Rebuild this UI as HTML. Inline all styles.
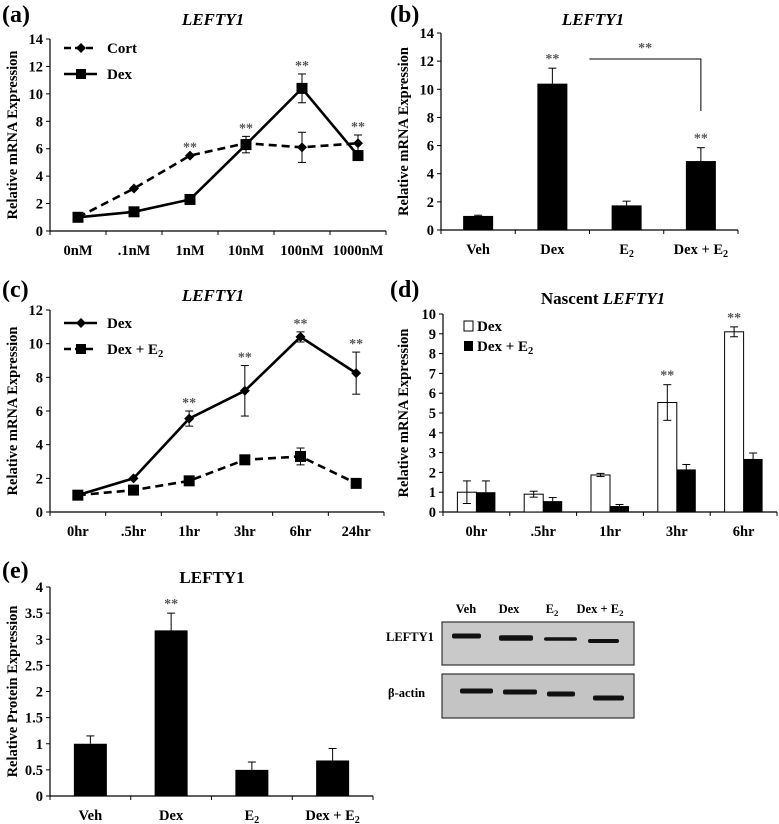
<!DOCTYPE html>
<html><head><meta charset="utf-8"><style>
body{margin:0;background:#fff}
svg{display:block}
svg text{font-family:"Liberation Serif","DejaVu Serif",serif;font-weight:bold}
</style></head><body>
<svg id="fig" width="779" height="824" viewBox="0 0 779 824" xmlns="http://www.w3.org/2000/svg" font-family="Liberation Serif, serif" font-weight="bold"></svg>
<script>
// Panel a
const aCats=["0nM",".1nM","1nM","10nM","100nM","1000nM"];
const aCort=[1,3.1,5.5,6.4,6.1,6.4];
const aCortErr=[0,0,0,0.1,1.1,0.6];
const aDex=[1,1.4,2.3,6.3,10.4,5.5];
const aDexErr=[0,0,0,0.6,1.05,0];
const aStars=[0,0,1,1,1,1];
const aTicks=[0,2,4,6,8,10,12,14];
// Panel b
const bCats=["Veh","Dex","E2","Dex + E2"];
const bVals=[1,10.4,1.75,4.9];
const bErr=[0.05,1.1,0.3,0.95];
const bStars=[0,1,0,1];
const bTicks=[0,2,4,6,8,10,12,14];
// Panel c
const cCats=["0hr",".5hr","1hr","3hr","6hr","24hr"];
const cDex=[1,2,5.55,7.2,10.4,8.25];
const cDexErr=[0.1,0.1,0.45,1.5,0.3,1.25];
const cDexE2=[1,1.3,1.85,3.1,3.3,1.7];
const cDexE2Err=[0.1,0.1,0.1,0.15,0.5,0.15];
const cStars=[0,0,1,1,1,1];
const cTicks=[0,2,4,6,8,10,12];
// Panel d
const dCats=["0hr",".5hr","1hr","3hr","6hr"];
const dDex=[1,0.9,1.87,5.53,9.1];
const dDexErr=[0.57,0.15,0.08,0.9,0.25];
const dDexE2=[1,0.55,0.3,2.15,2.68];
const dDexE2Err=[0.57,0.18,0.08,0.25,0.3];
const dStars=[0,0,0,1,1];
const dTicks=[0,1,2,3,4,5,6,7,8,9,10];
// Panel e
const eCats=["Veh","Dex","E2","Dex + E2"];
const eVals=[1,3.17,0.5,0.68];
const eErr=[0.15,0.33,0.15,0.23];
const eStars=[0,1,0,0];
const eTicks=[0,0.5,1,1.5,2,2.5,3,3.5,4];

const NS="http://www.w3.org/2000/svg";
const svg=document.getElementById('fig');
function el(tag,attrs,parent){const e=document.createElementNS(NS,tag);for(const k in attrs)e.setAttribute(k,attrs[k]);(parent||svg).appendChild(e);return e;}
function txt(x,y,s,size,anchor,parent,extra){const t=el('text',Object.assign({x:x,y:y,'font-size':size,'text-anchor':anchor||'middle','font-family':'Liberation Serif, DejaVu Serif, serif','font-weight':'bold'},extra||{}),parent);
  if(s.endsWith("E2")){t.textContent=s.slice(0,-1);const ts=el('tspan',{'font-size':size*0.7,dy:3},t);ts.textContent="2";}else t.textContent=s;return t;}

function axes(g,x0,x1,y0,ys,ticks,cats,title,ttlX,ttlY){
  el('line',{x1:x0,y1:ys(ticks[ticks.length-1]),x2:x0,y2:y0,stroke:'#000','stroke-width':1.2},g);
  el('line',{x1:x0,y1:y0,x2:x1,y2:y0,stroke:'#000','stroke-width':1.2},g);
  ticks.forEach(v=>{const y=ys(v);el('line',{x1:x0-4,y1:y,x2:x0,y2:y,stroke:'#000'},g);
    const t=txt(x0-7,y+5,String(v),14.5,'end',g);});
  const w=(x1-x0)/cats.length;
  for(let i=0;i<=cats.length;i++)el('line',{x1:x0+i*w,y1:y0,x2:x0+i*w,y2:y0+4,stroke:'#000'},g);
  cats.forEach((c,i)=>{const t=txt(x0+w*(i+0.5),y0+24,c,14.5,'middle',g);});
  const tt=txt(ttlX,ttlY,title,14.5,'middle',g,{transform:`rotate(-90 ${ttlX} ${ttlY})`});
  
  return w;
}
function errbar(g,x,yTop,yMid,yBot,cap){el('line',{x1:x,y1:yTop,x2:x,y2:yBot,stroke:'#000'},g);
  el('line',{x1:x-cap,y1:yTop,x2:x+cap,y2:yTop,stroke:'#000'},g);if(yBot!==yMid)el('line',{x1:x-cap,y1:yBot,x2:x+cap,y2:yBot,stroke:'#000'},g);}
function star(g,x,y){const t=txt(x,y+2,"**",14,'middle',g,{fill:'#555'});}
function marker(g,type,x,y,s){if(type==='sq')el('rect',{x:x-s,y:y-s,width:2*s,height:2*s,fill:'#000'},g);
  else el('polygon',{points:`${x},${y-s} ${x+s},${y} ${x},${y+s} ${x-s},${y}`,fill:'#000'},g);}
function panelLabel(x,y,s){const t=txt(x,y,s,24,'start');}
function title(x,y,parts){const t=el('text',{x:x,y:y,'font-size':17,'text-anchor':'middle','font-family':'Liberation Serif, serif','font-weight':'bold'});
  parts.forEach(p=>{const ts=el('tspan',p[1]?{'font-style':'italic'}:{},t);ts.textContent=p[0];});
  }

function linePanel(name,x0,x1,y0,yTop,ticks,cats,series,stars){
  const g=el('g',{});
  const max=ticks[ticks.length-1];const ys=v=>y0-(y0-yTop)*v/max;
  const w=axes(g,x0,x1,y0,ys,ticks,cats,'Relative mRNA Expression',17,(y0+yTop)/2);
  const xs=i=>x0+w*(i+0.5);
  series.forEach(s=>{
    const p=el('polyline',{points:s.v.map((v,i)=>xs(i)+','+ys(v)).join(' '),fill:'none',stroke:'#000','stroke-width':2.6,'stroke-dasharray':s.dash?'8,5':'none'},g);
    
    s.v.forEach((v,i)=>{if(s.e[i]>0.12)errbar(g,xs(i),ys(v+s.e[i]),ys(v),ys(v-s.e[i]),4);marker(g,s.m,xs(i),ys(v),s.m==='sq'?5.5:5);});
  });
  stars.forEach((st,i)=>{if(st){let top=Math.max(...series.map(s=>s.v[i]+s.e[i]));star(g,xs(i),ys(top)-6);}});
  return {g,ys,xs};
}
function legendLine(g,x,y,dash,m,label){el('line',{x1:x,y1:y,x2:x+33,y2:y,stroke:'#000','stroke-width':2.6,'stroke-dasharray':dash?'7,4':'none'},g);
  marker(g,m,x+17,y,m==='sq'?5:5);const t=txt(x+43,y+5,label,15,'start',g);}

// (a)
panelLabel(2,22,"(a)");title(213,25,[["LEFTY1",1]]);
const A=linePanel('panel-a-chart',50,386,231,39,aTicks,aCats,[
  {name:'cort',v:aCort,e:aCortErr,dash:true,m:'di'},{name:'dex',v:aDex,e:aDexErr,dash:false,m:'sq'}],[]);
aStars.forEach((s,i)=>{if(s){const top=Math.max(aCort[i]+aCortErr[i],aDex[i]+aDexErr[i]);star(A.g,A.xs(i),A.ys(top)-6);}});
legendLine(A.g,64,48,true,'di','Cort');legendLine(A.g,64,74,false,'sq','Dex');

function barPanel(name,x0,x1,y0,yTop,ticks,cats,vals,errs,stars,bw,ytitle){
  const g=el('g',{});
  const max=ticks[ticks.length-1];const ys=v=>y0-(y0-yTop)*v/max;
  const w=axes(g,x0,x1,y0,ys,ticks,cats,ytitle,x0-33,(y0+yTop)/2);
  const xs=i=>x0+w*(i+0.5);
  vals.forEach((v,i)=>{const r=el('rect',{x:xs(i)-bw/2,y:ys(v),width:bw,height:y0-ys(v),fill:'#000'},g);
    
    errbar(g,xs(i),ys(v+errs[i]),ys(v),ys(v),4);
    if(stars[i])star(g,xs(i),ys(v+errs[i])-7);});
  return {g,ys,xs};
}
// (b)
panelLabel(390,22,"(b)");title(593,25,[["LEFTY1",1]]);
const B=barPanel('panel-b-chart',441,738,230,33,bTicks,bCats,bVals,bErr,bStars,30,'Relative mRNA Expression');
el('polyline',{points:`${B.xs(1)+37},59 ${B.xs(3)},59 ${B.xs(3)},111`,fill:'none',stroke:'#000'},B.g);
star(B.g,(B.xs(1)+37+B.xs(3))/2,50);

// (c)
panelLabel(2,297,"(c)");title(213,301,[["LEFTY1",1]]);
const C=linePanel('panel-c-chart',50,384,512,310,cTicks,cCats,[
  {name:'dex',v:cDex,e:cDexErr,dash:false,m:'di'},{name:'dex-e2',v:cDexE2,e:cDexE2Err,dash:true,m:'sq'}],cStars);
legendLine(C.g,64,323,false,'di','Dex');legendLine(C.g,64,349,true,'sq','Dex + E2');

// (d)
panelLabel(390,297,"(d)");title(603,304,[["Nascent ",0],["LEFTY1",1]]);
(function(){
  const g=el('g',{});
  const x0=443,x1=777,y0=512,yTop=314;const max=10;const ys=v=>y0-(y0-yTop)*v/max;
  const w=axes(g,x0,x1,y0,ys,dTicks,dCats,'Relative mRNA Expression',408,(y0+yTop)/2);
  const xs=i=>x0+w*(i+0.5);const bw=19;
  dDex.forEach((v,i)=>{const r=el('rect',{x:xs(i)-bw,y:ys(v),width:bw,height:y0-ys(v),fill:'#fff',stroke:'#000','stroke-width':1},g);
    
    errbar(g,xs(i)-bw/2,ys(v+dDexErr[i]),ys(v),ys(v-dDexErr[i]),4);
    if(dStars[i])star(g,xs(i)-bw/2,ys(v+dDexErr[i])-7);});
  dDexE2.forEach((v,i)=>{const r=el('rect',{x:xs(i),y:ys(v),width:bw,height:y0-ys(v),fill:'#000'},g);
    
    errbar(g,xs(i)+bw/2,ys(v+dDexE2Err[i]),ys(v),ys(v),4);});
  el('rect',{x:464,y:321,width:9,height:10,fill:'#fff',stroke:'#000'},g);
  el('rect',{x:464,y:341,width:9,height:10,fill:'#000'},g);
  let t=txt(477,331,'Dex',15,'start',g);
  t=txt(477,351,'Dex + E2',15,'start',g);
})();

// (e)
panelLabel(2,578,"(e)");title(212,583,[["LEFTY1",0]]);
barPanel('panel-e-chart',50,373,796,587,eTicks,eCats,eVals,eErr,eStars,33,'Relative Protein Expression');

// western blot
(function(){
  const g=el('g',{});
  const lanes=["Veh","Dex","E2","Dex + E2"];const lx=[466,509,552,600];
  lanes.forEach((l,i)=>{const t=txt(lx[i],613,l,12.5,'middle',g);});
  el('rect',{x:442,y:622,width:192,height:43,fill:'#c9c9c9',stroke:'#333','stroke-width':1.2},g);
  el('rect',{x:442,y:674,width:192,height:44,fill:'#c4c4c4',stroke:'#333','stroke-width':1.2},g);
  let t=txt(386,641,'LEFTY1',12.5,'start',g);
  t=txt(388,697,'β-actin',12.5,'start',g);
  const b1=[[452,481,5],[499,533,5.5],[544,577,3.5],[588,619,4]],b1y=[636,638,639,641];
  b1.forEach((b,i)=>el('rect',{x:b[0],y:b1y[i]-b[2]/2,width:b[1]-b[0],height:b[2],rx:2,fill:'#111'},g));
  const b2=[[462,491],[505,535],[549,573],[595,622]],b2y=[691,692,694,698];
  b2.forEach((b,i)=>el('rect',{x:b[0]-2,y:b2y[i]-2.5,width:b[1]-b[0]+4,height:5,rx:2,fill:'#111'},g));
})();
</script>
</body></html>
